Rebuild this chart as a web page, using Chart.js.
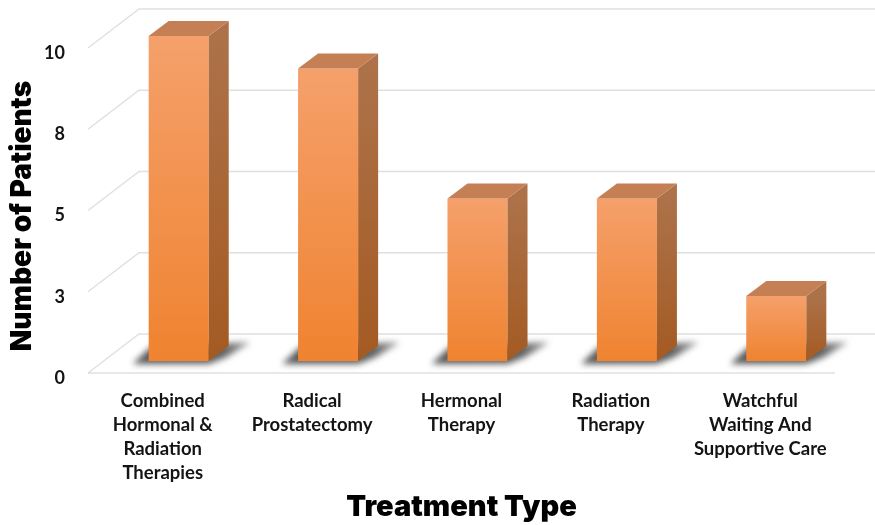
<!DOCTYPE html>
<html>
<head>
<meta charset="utf-8">
<script src="https://cdn.jsdelivr.net/npm/chart.js@4"></script>
<style>
  html, body { margin: 0; padding: 0; background: #fff; }
  canvas { display: block; }
</style>
</head>
<body>
<canvas id="myCanvas" width="875" height="525"></canvas>
<script>
const categorias = [
  ["Combined", "Hormonal &", "Radiation", "Therapies"],
  ["Radical", "Prostatectomy"],
  ["Hermonal", "Therapy"],
  ["Radiation", "Therapy"],
  ["Watchful", "Waiting And", "Supportive Care"]
];
const pacientes = [10, 9, 5, 5, 2];
const tickLabels = ["0", "3", "5", "8", "10"];

// depth of the fake 3d box
const wallDx = 51, wallDy = 39;   // front plane -> back wall
const barDx = 16, barDy = 12;     // front plane -> front face of the bars
const sideDx = 20, sideDy = 15;   // thickness of a bar

const gridColor = "#e0e0e0";

const poly = (ctx, pts, fill) => {
  ctx.beginPath();
  pts.forEach((p, i) => i ? ctx.lineTo(p[0], p[1]) : ctx.moveTo(p[0], p[1]));
  ctx.closePath();
  ctx.fillStyle = fill;
  ctx.fill();
};

const paredes = {
  id: "paredes",
  beforeDatasetsDraw(chart) {
    const { ctx, scales } = chart;
    const left = scales.x.left, right = scales.x.right;
    ctx.save();
    ctx.strokeStyle = gridColor;
    ctx.lineWidth = 1.5;
    scales.y.ticks.forEach((t) => {
      const y = scales.y.getPixelForValue(t.value);
      ctx.beginPath();
      ctx.moveTo(left, y);
      ctx.lineTo(left + wallDx, y - wallDy);
      ctx.lineTo(right + wallDx, y - wallDy);
      ctx.stroke();
    });
    const y0 = scales.y.getPixelForValue(0);
    ctx.beginPath();
    ctx.moveTo(left, y0);
    ctx.lineTo(right, y0);
    ctx.stroke();
    ctx.restore();

    // floor shadows, then the sides of every bar
    const meta = chart.getDatasetMeta(0);
    meta.data.forEach((bar) => {
      const x1 = bar.x - bar.width / 2 + barDx;
      const x2 = bar.x + bar.width / 2 + barDx;
      const yb = bar.base - barDy;
      ctx.save();
      ctx.filter = "blur(3px)";
      const g = ctx.createLinearGradient(x1, 0, x2 + 44, 0);
      g.addColorStop(0, "#5a5a5a");
      g.addColorStop(0.7, "#5f5f5f");
      g.addColorStop(1, "#a8a8a8");
      poly(ctx, [[x1 - 16, yb + 3], [x1 + 2, yb - 14], [x2 + 42, yb - 19], [x2 + 18, yb - 4], [x2, yb + 3]], g);
      ctx.restore();
    });
  },
  afterDatasetsDraw(chart) {
    const { ctx } = chart;
    const meta = chart.getDatasetMeta(0);
    meta.data.forEach((bar) => {
      const x1 = bar.x - bar.width / 2 + barDx;
      const x2 = bar.x + bar.width / 2 + barDx;
      const yt = bar.y - barDy;
      const yb = bar.base - barDy;
      const lado = ctx.createLinearGradient(0, yt, 0, yb);
      lado.addColorStop(0, "#ad7249");
      lado.addColorStop(1, "#a45a22");
      poly(ctx, [[x2, yt], [x2 + sideDx, yt - sideDy], [x2 + sideDx, yb - sideDy], [x2, yb]], lado);
      poly(ctx, [[x1, yt], [x1 + sideDx, yt - sideDy], [x2 + sideDx, yt - sideDy], [x2, yt]], "#c47f55");
    });
  }
};

// the library draws the front faces, pushed back onto the floor
const desplazar = {
  id: "desplazar",
  beforeDatasetDraw(chart) {
    chart.ctx.save();
    chart.ctx.translate(barDx, -barDy);
  },
  afterDatasetDraw(chart) {
    chart.ctx.restore();
  }
};

const colorBarra = (c) => {
  const { chart, dataIndex } = c;
  if (!chart.chartArea) return "#f28a3c";
  const yTop = chart.scales.y.getPixelForValue(pacientes[dataIndex]);
  const yBot = chart.scales.y.getPixelForValue(0);
  const g = chart.ctx.createLinearGradient(0, yTop, 0, yBot);
  g.addColorStop(0, "#f5a06b");
  g.addColorStop(1, "#ef8330");
  return g;
};

new Chart(document.getElementById("myCanvas"), {
  type: "bar",
  data: {
    labels: categorias,
    datasets: [{
      data: pacientes,
      backgroundColor: colorBarra,
      barPercentage: 0.402,
      categoryPercentage: 1,
      clip: false
    }]
  },
  plugins: [paredes, desplazar],
  options: {
    responsive: false,
    animation: false,
    devicePixelRatio: 1,
    layout: { padding: { top: 48, right: 40, left: 0, bottom: 0 } },
    plugins: { legend: { display: false }, title: { display: false }, tooltip: { enabled: false } },
    scales: {
      x: {
        grid: { display: false },
        border: { display: false },
        ticks: {
          color: "#141414",
          font: { family: "Lato", size: 18.5, weight: "bold", lineHeight: "24px" },
          padding: 8,
          maxRotation: 0,
          autoSkip: false
        },
        title: {
          display: true,
          text: "Treatment Type",
          color: "#000",
          font: { family: "Inter", size: 29, weight: "900" },
          padding: { top: 0, bottom: 0 }
        },
        afterFit(scale) { scale.height = 152; }
      },
      y: {
        min: 0,
        max: 10,
        grid: { display: false },
        border: { display: false },
        ticks: {
          stepSize: 2.5,
          color: "#141414",
          font: { family: "Lato", size: 18, weight: "bold", lineHeight: "10px" },
          padding: 15,
          // empty first line nudges the number just under its grid line
          callback: (v, i) => ["", tickLabels[i]]
        },
        title: {
          display: true,
          text: "Number of Patients  ",
          color: "#000",
          font: { family: "Inter", size: 28, weight: "900" },
          padding: { top: 6, bottom: 0 }
        },
        afterFit(scale) { scale.width = 88; }
      }
    }
  }
});
</script>
</body>
</html>
